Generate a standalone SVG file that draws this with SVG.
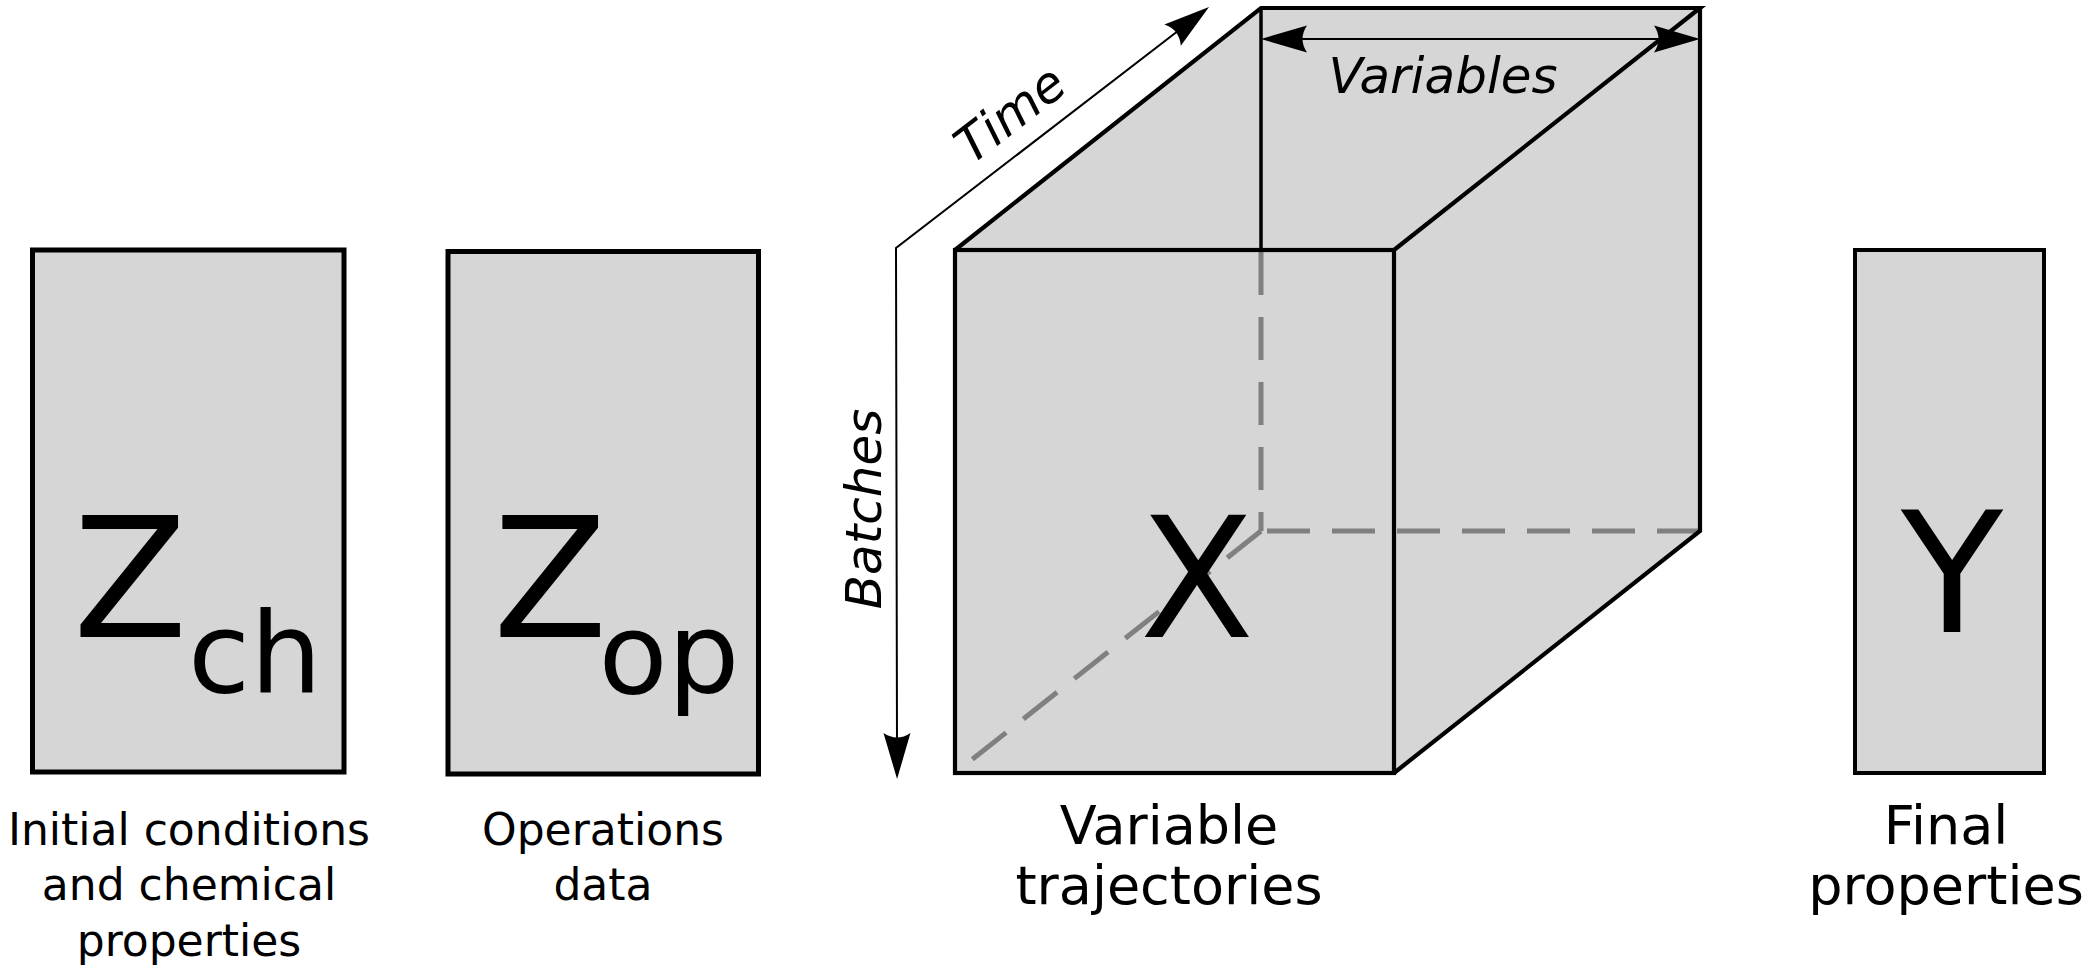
<svg xmlns="http://www.w3.org/2000/svg" width="2094" height="977" viewBox="0 0 2094 977">
<defs>
<marker id="ah" markerUnits="userSpaceOnUse" markerWidth="80" markerHeight="40" refX="0" refY="0" orient="auto-start-reverse" overflow="visible">
<path d="M36,0 L-10,-13.5 Q-1,0 -10,13.5 Z" fill="#000"/>
</marker>
</defs>
<style>
.box{fill:#d6d6d6;stroke:#000;stroke-width:5}
.face{fill:#d6d6d6;stroke:none}
.edge{fill:none;stroke:#000;stroke-width:4.2;stroke-linejoin:miter}
.thin{fill:none;stroke:#000;stroke-width:3.5}
.hidden{fill:none;stroke:#808080;stroke-width:5;stroke-dasharray:43 22}
.axis{fill:none;stroke:#000;stroke-width:2}
text{font-family:"DejaVu Sans","Liberation Sans",sans-serif;fill:#000}
.big{font-size:167px}
.sub{font-size:113px}
.lbl{font-size:44px;text-anchor:middle}
.lbl2{font-size:54px;text-anchor:middle}
.ax{font-size:50px;font-style:italic;text-anchor:middle}
</style>
<rect width="2094" height="977" fill="#fff"/>

<g id="zch">
<rect class="box" x="32.5" y="250" width="311.5" height="522"/>
<text class="big" x="73" y="637">Z<tspan class="sub" x="188" y="692">ch</tspan></text>
<text class="lbl" x="189" y="845">Initial conditions</text>
<text class="lbl" x="189" y="900">and chemical</text>
<text class="lbl" x="189" y="956">properties</text>
</g>

<g id="zop">
<rect class="box" x="448" y="251.5" width="310.5" height="522.5"/>
<text class="big" x="493" y="637">Z<tspan class="sub" x="598.5" y="693">op</tspan></text>
<text class="lbl" x="603" y="845">Operations</text>
<text class="lbl" x="603" y="900">data</text>
</g>

<g id="cube">
<polygon class="face" points="955,250 1261,8 1700,8 1700,531 1394,773 955,773"/>
<line class="hidden" x1="1700" y1="531" x2="1261" y2="531"/>
<line class="hidden" x1="1261" y1="252" x2="1261" y2="531"/>
<line class="hidden" x1="1261" y1="531" x2="955" y2="773"/>
<line class="thin" x1="1261" y1="8" x2="1261" y2="250"/>
<rect class="edge" x="955" y="250" width="439" height="523"/>
<polyline class="edge" points="955,250 1261,8 1700,8 1394,250"/>
<polyline class="edge" points="1700,8 1700,531 1394,773"/>
<text class="big" x="1197" y="637" text-anchor="middle">X</text>
<text class="lbl2" x="1169" y="844">Variable</text>
<text class="lbl2" x="1169" y="904">trajectories</text>
</g>

<g id="y">
<rect class="box" x="1855" y="250" width="189" height="523" style="stroke-width:4"/>
<text class="big" x="1952" y="632" text-anchor="middle">Y</text>
<text class="lbl2" x="1946" y="844">Final</text>
<text class="lbl2" x="1946" y="904">properties</text>
</g>

<g id="connectors">
<path class="axis" d="M1180.5,29 L896,248 L897,743" marker-start="url(#ah)" marker-end="url(#ah)"/>
<path class="axis" d="M1297,39 L1664,39" marker-start="url(#ah)" marker-end="url(#ah)"/>
</g>

<g id="axis-labels">
<text class="ax" transform="translate(1020.6,127.8) rotate(-37.6)">Time</text>
<text class="ax" transform="translate(881,509) rotate(-90)">Batches</text>
<text class="ax" x="1443" y="93">Variables</text>
</g>
</svg>
